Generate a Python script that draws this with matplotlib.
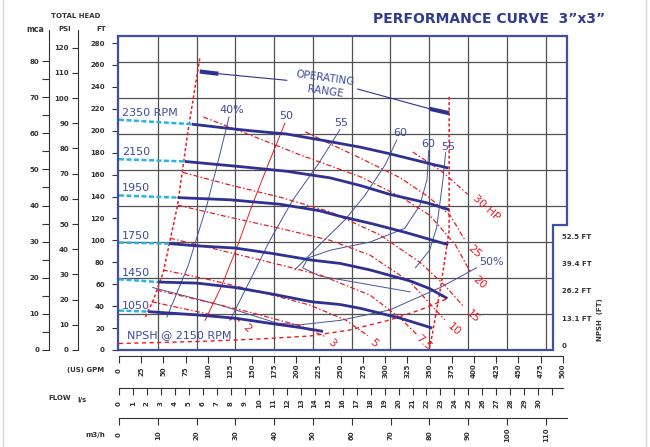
import matplotlib
matplotlib.use("Agg")
import matplotlib.pyplot as plt
from matplotlib.lines import Line2D

W, H = 650, 447

# ---------------- data ----------------
# head-capacity curves (US GPM, FT)
RPM_LABELS = ["2350 RPM", "2150", "1950", "1750", "1450", "1050"]
Q_2350 = [82, 114, 148, 189, 238, 272, 305, 350, 371]
H_2350 = [206, 203, 200, 197, 190, 185, 179, 170, 166]
Q_2150 = [74, 140, 189, 238, 272, 305, 348, 372]
H_2150 = [172, 167, 163, 157, 150, 142, 134, 128]
Q_1950 = [66, 125, 181, 226, 249, 286, 324, 371]
H_1950 = [139, 137, 133, 127, 122, 115, 107, 96]
Q_1750 = [57, 88, 131, 173, 217, 249, 283, 328, 350, 370]
H_1750 = [97, 95, 93, 88, 82, 79, 73, 63, 56, 47]
Q_1450 = [44, 88, 131, 173, 217, 249, 272, 317, 353]
H_1450 = [62, 61, 57, 51, 44, 41.5, 38, 29, 20]
Q_1050 = [33, 88, 131, 173, 204, 230]
H_1050 = [35, 32, 29, 24, 20.5, 17]
SHUTOFF = [210, 174, 141, 98, 64.5, 36]
RPM_LABEL_H = [216, 181, 148, 104, 70.5, 40]

# efficiency contours (GPM, FT)
EFF_LABELS = ["40%", "50", "55", "60", "60", "55", "50%"]
E40_Q = [124, 112, 99, 78, 54]
E40_H = [212.5, 173, 132, 77, 30]
E50_Q = [187, 168, 150, 134, 116, 97]
E50_H = [207, 169, 132, 96, 59, 27]
E55_Q = [249, 224, 196, 170, 148, 125]
E55_H = [201, 169, 137, 100, 64, 27]
E60A_Q = [313, 300, 277, 255, 226, 198]
E60A_H = [191.5, 169, 141, 119, 96, 73]
E60B_Q = [349, 347, 339, 322, 283, 238, 213, 207, 226, 272, 328]
E60B_H = [182, 155, 132, 111, 98.5, 91, 84, 75, 67.5, 61, 53]
E55B_Q = [368, 365, 358, 350, 334]
E55B_H = [180, 155, 112, 91, 75]
E50C_Q = [403, 362, 305, 249, 204, 178, 114, 38]
E50C_H = [75, 57, 36.5, 27, 23, 24.5, 41, 57]
EFF_LABEL_Q = [127, 188, 250, 317, 349, 371, 420]
EFF_LABEL_H = [219, 213, 207, 198, 188, 185, 80]

# power lines (GPM, FT)
HP_LABELS = ["30 HP", "25", "20", "15", "10", "7.5", "5", "3", "2"]
P30_Q = [331, 362, 393]
P30_H = [180.6, 164, 142]
P25_Q = [210, 238, 272, 317, 348, 373, 390]
P25_H = [199, 188, 175, 157, 140, 123, 100]
P20_Q = [95, 148, 204, 272, 317, 350, 379, 396]
P20_H = [212.5, 196, 178, 158, 140, 123, 96, 71]
P15_Q = [72, 125, 181, 238, 294, 339, 367, 388]
P15_H = [162, 150.5, 139.5, 126, 105, 80, 59, 40]
P10_Q = [66.5, 125, 181, 238, 283, 328, 367]
P10_H = [132, 121, 111, 100, 86.5, 62, 27.5]
P7_Q = [57.5, 114, 170, 226.5, 283, 317, 337]
P7_H = [102, 91, 80, 68.5, 50, 29, 13]
P5_Q = [49.5, 102.5, 159, 215, 255, 280.5]
P5_H = [73, 64, 53, 41, 27.5, 13]
P3_Q = [43, 91, 147.5, 204, 233]
P3_H = [54.5, 45.5, 34.5, 22, 12]
P2_Q = [37, 91, 136]
P2_H = [44, 34.5, 26.5]
HP_LABEL_Q = [414, 400, 406, 399, 377, 343, 287, 240, 144]
HP_LABEL_H = [129.5, 90, 62, 31, 19, 6.4, 6.4, 6.4, 20]

# operating range limits (GPM, FT)
LEFT_Q = [91, 78, 66, 57, 50, 39, 29]
LEFT_H = [266, 201, 132, 98, 71, 46, 29]
RIGHT_Q = [372, 372, 362, 350.5]
RIGHT_H = [231, 109, 55, 3]
OPR_MARK_L_Q = [91, 112]
OPR_MARK_L_H = [254, 252]
OPR_LEAD_L_Q = [112, 189]
OPR_LEAD_L_H = [252, 246]
OPR_LEAD_R_Q = [269, 350]
OPR_LEAD_R_H = [238, 220]
OPR_MARK_R_Q = [350, 372]
OPR_MARK_R_H = [220, 216]

# NPSH @ 2150 RPM (GPM, NPSH ft)
NPSH_Q = [0, 91, 159, 215, 260, 305, 339, 372]
NPSH_FT = [1.2, 2.2, 3.4, 4.8, 7.7, 12.5, 17.3, 23.1]
NPSH_TICKS = [0, 13.1, 26.2, 39.4, 52.5]
NPSH_TICK_LABELS = ["0", "13.1 FT", "26.2 FT", "39.4 FT", "52.5 FT"]

# scales
FT_TICKS = list(range(0, 281, 20))
MCA_TICKS = list(range(0, 81, 5))
PSI_TICKS = list(range(0, 121, 10))
GPM_TICKS = list(range(0, 501, 25))
LS_TICKS = list(range(0, 32))
LS_LABELLED = list(range(0, 31))
M3H_TICKS = list(range(0, 111, 10))
GRID_M3H = list(range(10, 111, 10))
GRID_MCA = list(range(10, 81, 10))
GPM_PER_M3H = 4.37
FT_PER_M = 3.2808

# ---------------- styles ----------------
NAVY = '#2e3192'
THIN = '#45549f'
LBL = '#3d4c9e'
BORDER = '#3f4fa8'
RED = '#ec1c24'
CYAN = '#27b4e6'
GRID = '#505050'
TXT = '#333333'

fig = plt.figure(figsize=(W / 100, H / 100), dpi=100)
fig.patch.set_facecolor('white')


def px_axes(left, top, right, bottom):
    return fig.add_axes([left / W, 1 - bottom / H, (right - left) / W, (bottom - top) / H])


def ftext(x, y, s, **kw):
    fig.text(x / W, 1 - y / H, s, **kw)


# light page frame
for fx in (3, 646):
    fig.add_artist(Line2D([fx / W, fx / W], [0, 1], color='#d6d6d6', lw=1.0))

# ---------------- main axes ----------------
X0, X1, Y1 = -1.1, 504.8, 286.4
X_STEP, Y_STEP = 489.0, 114.0
ax = px_axes(118, 36, 567, 350)
ax.set_xlim(X0, X1)
ax.set_ylim(0, Y1)
ax.patch.set_alpha(0)
for s in ax.spines.values():
    s.set_visible(False)
ax.set_xticks([])
ax.set_yticks(FT_TICKS)
ax.set_yticklabels([str(v) for v in FT_TICKS], fontweight='bold')
ax.tick_params(axis='y', direction='out', length=4.5, width=0.8, color=TXT,
               labelsize=5, labelcolor=TXT, pad=5)

# grid
for m in GRID_M3H:
    ax.plot([m * GPM_PER_M3H] * 2, [0, Y1], color=GRID, lw=0.9, zorder=1)
for m in GRID_MCA:
    hy = m * FT_PER_M
    ax.plot([X0, X_STEP if hy < Y_STEP else X1], [hy, hy], color=GRID, lw=0.9, zorder=1)

# border
ax.plot([X0, X0, X1, X1, X_STEP, X_STEP, X0], [0, Y1, Y1, Y_STEP, Y_STEP, 0, 0],
        color=BORDER, lw=1.6, clip_on=False, zorder=6, solid_joinstyle='miter')

# efficiency
for q, h in [(E40_Q, E40_H), (E55_Q, E55_H), (E60A_Q, E60A_H),
             (E60B_Q, E60B_H), (E55B_Q, E55B_H), (E50C_Q, E50C_H)]:
    ax.plot(q, h, color=THIN, lw=0.7, zorder=3)
ax.plot(E50_Q, E50_H, color=RED, lw=0.7, zorder=3)
for lab, q, h in zip(EFF_LABELS, EFF_LABEL_Q, EFF_LABEL_H):
    ax.text(q, h, lab, color=LBL, fontsize=8, ha='center', va='center', zorder=5)

# power lines
for q, h in [(P30_Q, P30_H), (P25_Q, P25_H), (P20_Q, P20_H), (P15_Q, P15_H),
             (P10_Q, P10_H), (P7_Q, P7_H), (P5_Q, P5_H), (P3_Q, P3_H), (P2_Q, P2_H)]:
    ax.plot(q, h, color=RED, lw=0.9, dashes=(4, 1.8, 1.2, 1.8), zorder=3)
for lab, q, h in zip(HP_LABELS, HP_LABEL_Q, HP_LABEL_H):
    ax.text(q, h, lab, color=RED, fontsize=8, ha='center', va='center',
            rotation=-42, rotation_mode='anchor', zorder=5)

# operating range
for q, h in [(LEFT_Q, LEFT_H), (RIGHT_Q, RIGHT_H)]:
    ax.plot(q, h, color=RED, lw=1.1, dashes=(2, 1.5), zorder=3)
ax.plot(OPR_MARK_L_Q, OPR_MARK_L_H, color=NAVY, lw=3, solid_capstyle='butt', zorder=4)
ax.plot(OPR_MARK_R_Q, OPR_MARK_R_H, color=NAVY, lw=3, solid_capstyle='butt', zorder=4)
ax.plot(OPR_LEAD_L_Q, OPR_LEAD_L_H, color=NAVY, lw=0.8, zorder=4)
ax.plot(OPR_LEAD_R_Q, OPR_LEAD_R_H, color=NAVY, lw=0.8, zorder=4)
ax.text(232, 248, "OPERATING", color=LBL, fontsize=7.5, ha='center', va='center', rotation=-8)
ax.text(232, 235.5, "RANGE", color=LBL, fontsize=7.5, ha='center', va='center', rotation=-8)

# head curves
curves = [(Q_2350, H_2350), (Q_2150, H_2150), (Q_1950, H_1950),
          (Q_1750, H_1750), (Q_1450, H_1450), (Q_1050, H_1050)]
for (q, h), h0, lab, lh in zip(curves, SHUTOFF, RPM_LABELS, RPM_LABEL_H):
    ax.plot([0, q[0]], [h0, h[0]], color=CYAN, lw=1.8, dashes=(2, 1), zorder=4)
    ax.plot(q, h, color=NAVY, lw=2.0, zorder=4, solid_capstyle='butt')
    ax.text(3.5, lh, lab, color=LBL, fontsize=8, ha='left', va='center', zorder=5)

# NPSH axis
ax2 = px_axes(118, 36, 567, 350)
ax2.set_xlim(X0, X1)
ax2.set_ylim(-1.92, 149.0)
ax2.axis('off')
ax2.plot(NPSH_Q, NPSH_FT, color=RED, lw=1.0, dashes=(3, 2.5), zorder=3)
for v, lab in zip(NPSH_TICKS, NPSH_TICK_LABELS):
    ax2.annotate(lab, xy=(X_STEP, v), xytext=(9, 0), textcoords='offset pixels',
                 ha='left', va='center', fontsize=5, fontweight='bold', color=TXT)
ax.text(9, 13.7, "NPSH @ 2150 RPM", color=LBL, fontsize=8, ha='left', va='center', zorder=5)
ftext(600, 320, "NPSH  (FT)", rotation=90, ha='center', va='center', fontsize=5,
      fontweight='bold', color=TXT)

# ---------------- left scales ----------------
axm = px_axes(49, 30, 50, 350)
axm.set_ylim(0, 320 / 3.6125)
axp = px_axes(77.7, 30, 78.7, 350)
axp.set_ylim(0, 320 / 2.519)
for a, ticks, lab_every, tl in [(axm, MCA_TICKS, 10, 5.0), (axp, PSI_TICKS, 10, 4.3)]:
    a.patch.set_alpha(0)
    for k, s in a.spines.items():
        s.set_visible(k == 'left')
    a.spines['left'].set_color(TXT)
    a.spines['left'].set_linewidth(0.8)
    a.set_xticks([])
    a.set_yticks(ticks)
    a.set_yticklabels([str(v) if v % lab_every == 0 else '' for v in ticks], fontweight='bold')
    a.tick_params(axis='y', direction='out', length=tl, width=0.8, color=TXT,
                  labelsize=5, labelcolor=TXT, pad=2)

ftext(76, 16, "TOTAL HEAD", ha='center', va='center', fontsize=5, fontweight='bold', color=TXT)
ftext(35, 29, "mca", ha='center', va='center', fontsize=5.5, fontweight='bold', color=TXT)
ftext(65, 29, "PSI", ha='center', va='center', fontsize=5, fontweight='bold', color=TXT)
ftext(101, 29, "FT", ha='center', va='center', fontsize=5, fontweight='bold', color=TXT)

# ---------------- bottom scales ----------------
def bottom_scale(y, right, xmax, ticks, labelled, off):
    a = px_axes(119, y - 1, right, y)
    a.set_xlim(0, xmax)
    a.patch.set_alpha(0)
    for k, s in a.spines.items():
        s.set_visible(k == 'bottom')
    a.spines['bottom'].set_color(TXT)
    a.spines['bottom'].set_linewidth(0.8)
    a.set_yticks([])
    a.set_xticks(ticks)
    a.set_xticklabels([])
    a.tick_params(axis='x', direction='out', length=5, width=0.8, color=TXT)
    for v in labelled:
        a.annotate(str(v), xy=(v, 0), xycoords=('data', 'axes fraction'), xytext=(0, -off),
                   textcoords='offset pixels', rotation=90, ha='center', va='center',
                   fontsize=5, fontweight='bold', color=TXT)
    return a


bottom_scale(356, 562.7, 500, GPM_TICKS, GPM_TICKS, 15)
bottom_scale(388.3, 562.7, 443.7 / 13.977, LS_TICKS, LS_LABELLED, 15)
bottom_scale(417.7, 566.7, 447.7 / 3.879, M3H_TICKS, M3H_TICKS, 17)

ftext(86, 370, "(US) GPM", ha='center', va='center', fontsize=5, fontweight='bold', color=TXT)
ftext(60, 398, "FLOW", ha='center', va='center', fontsize=5, fontweight='bold', color=TXT)
ftext(82, 400, "l/s", ha='center', va='center', fontsize=5, fontweight='bold', color=TXT)
ftext(95, 435, "m3/h", ha='center', va='center', fontsize=5, fontweight='bold', color=TXT)

# title
ftext(373, 19, "PERFORMANCE CURVE  3\u201dx3\u201d", ha='left', va='center', fontsize=10,
      fontweight='bold', color='#2e3b8f')

fig.savefig("out.png", dpi=100, facecolor='white')
